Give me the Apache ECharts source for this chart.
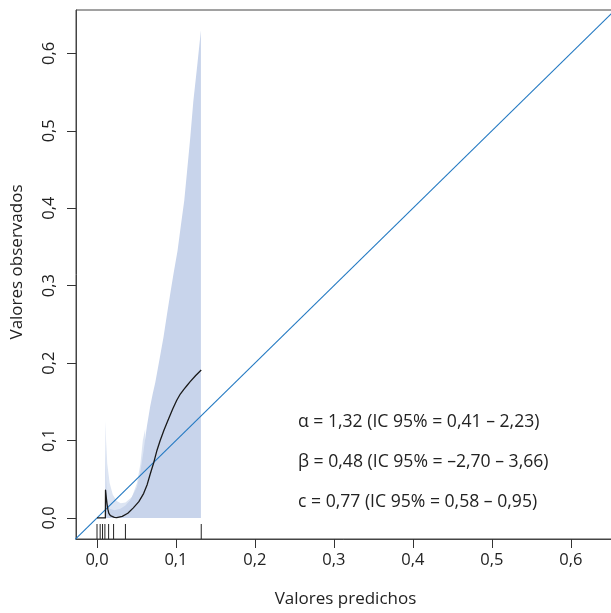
<!DOCTYPE html>
<html>
<head>
<meta charset="utf-8">
<script src="https://cdn.jsdelivr.net/npm/echarts@6/dist/echarts.min.js"></script>
<style>
html,body{margin:0;padding:0;background:#fff;}
#chart{width:611px;height:613px;}
</style>
</head>
<body>
<div id="chart"></div>
<script>
// ---- data ----
const xTickValues = [0, 0.1, 0.2, 0.3, 0.4, 0.5, 0.6];
const xTickLabels = ['0,0', '0,1', '0,2', '0,3', '0,4', '0,5', '0,6'];
const yTickValues = [0, 0.1, 0.2, 0.3, 0.4, 0.5, 0.6];
const yTickLabels = ['0,0', '0,1', '0,2', '0,3', '0,4', '0,5', '0,6'];

// flexible calibration curve
const curveX = [0, 0.0106, 0.0108, 0.0118, 0.0127, 0.0138, 0.015, 0.017, 0.019, 0.022, 0.025, 0.032, 0.039, 0.046, 0.053, 0.059, 0.0635, 0.0675, 0.072, 0.076, 0.080, 0.0850, 0.0907, 0.096, 0.101, 0.1055, 0.110, 0.114, 0.118, 0.125, 0.132];
const curveY = [0, 0, 0.036, 0.026, 0.018, 0.011, 0.006, 0.003, 0.0015, 0.0008, 0.0005, 0.002, 0.006, 0.013, 0.021, 0.0315, 0.043, 0.057, 0.072, 0.0875, 0.100, 0.114, 0.128, 0.141, 0.152, 0.160, 0.166, 0.171, 0.176, 0.184, 0.191];

// confidence band (upper limit, lower limit = 0)
const bandX = [0.0106, 0.0107, 0.0109, 0.0115, 0.013, 0.016, 0.022, 0.0295, 0.036, 0.042, 0.0506, 0.055, 0.059, 0.063, 0.0675, 0.0705, 0.0738, 0.079, 0.0843, 0.0885, 0.0928, 0.097, 0.102, 0.106, 0.1105, 0.114, 0.118, 0.122, 0.127, 0.1316];
const bandUpper = [0, 0.126, 0.09, 0.05, 0.022, 0.012, 0.010, 0.012, 0.016, 0.023, 0.040, 0.060, 0.087, 0.117, 0.145, 0.160, 0.175, 0.204, 0.234, 0.262, 0.290, 0.316, 0.345, 0.376, 0.410, 0.447, 0.490, 0.538, 0.585, 0.630];

// paler outer fringe of the band
const paleX = [0.0106, 0.0107, 0.0115, 0.013, 0.016, 0.020, 0.025, 0.030, 0.036, 0.0443, 0.0506, 0.055, 0.058, 0.061];
const paleUpper = [0, 0.126, 0.10, 0.07, 0.045, 0.03, 0.022, 0.019, 0.02, 0.027, 0.045, 0.07, 0.10, 0.115];

// rug of predicted values
const rugX = [0, 0.004, 0.007, 0.010, 0.0147, 0.021, 0.036, 0.132];

// ideal line y = x
const diagX = [-0.05, 0.7];

const statLines = [
  'α = 1,32 (IC 95% = 0,41 – 2,23)',
  'β = 0,48 (IC 95% = –2,70 – 3,66)',
  'c = 0,77 (IC 95% = 0,58 – 0,95)'
];

const X_MIN = -0.0266, X_MAX = 0.656, Y_MIN = -0.0272, Y_MAX = 0.656;
const FONT = 'Open Sans';

const zip = (a, b) => a.map((v, i) => [v, b[i]]);
const lbl = (vals, labels) => (v) => {
  const i = vals.findIndex(t => Math.abs(t - v) < 1e-9);
  return i >= 0 ? labels[i] : '';
};

const chart = echarts.init(document.getElementById('chart'), null, {renderer: 'canvas'});
chart.setOption({
  animation: false,
  backgroundColor: '#fff',
  grid: {left: 76, top: 10, right: -4, bottom: 74, show: true, borderColor: '#444', borderWidth: 1, outerBoundsMode: 'none', containLabel: false},
  xAxis: {
    type: 'value', min: X_MIN, max: X_MAX,
    name: 'Valores predichos', nameLocation: 'middle', nameGap: 52,
    nameTextStyle: {fontFamily: FONT, fontSize: 17, color: '#222'},
    axisLine: {show: true, onZero: false, lineStyle: {color: '#444', width: 1}},
    axisTick: {show: true, length: 9, customValues: xTickValues, lineStyle: {color: '#333'}},
    axisLabel: {customValues: xTickValues, formatter: lbl(xTickValues, xTickLabels), margin: 13, fontFamily: FONT, fontSize: 16.5, color: '#222'},
    splitLine: {show: false}
  },
  yAxis: {
    type: 'value', min: Y_MIN, max: Y_MAX,
    axisLine: {show: true, onZero: false, lineStyle: {color: '#444', width: 1}},
    axisTick: {show: true, length: 9, customValues: yTickValues, lineStyle: {color: '#333'}},
    axisLabel: {customValues: yTickValues, formatter: lbl(yTickValues, yTickLabels), rotate: 90, margin: 18, fontFamily: FONT, fontSize: 16.5, color: '#222'},
    splitLine: {show: false}
  },
  series: [
    {type: 'line', data: zip(paleX, paleUpper), showSymbol: false, symbol: 'none', lineStyle: {width: 0}, areaStyle: {color: '#dde5f3', opacity: 1}, z: 1},
    {type: 'line', data: zip(bandX, bandUpper), showSymbol: false, symbol: 'none', lineStyle: {width: 0}, areaStyle: {color: '#c8d4eb', opacity: 1}, z: 2},
    {type: 'line', data: zip(diagX, diagX), showSymbol: false, symbol: 'none', clip: true, lineStyle: {color: '#2379c2', width: 1.1}, z: 3},
    {type: 'line', data: zip(curveX, curveY), showSymbol: false, symbol: 'none', lineStyle: {color: '#1a1a1a', width: 1.3, join: 'round'}, z: 4},
    {
      type: 'custom', z: 5, clip: false,
      data: rugX.map(v => [v]),
      renderItem: (params, api) => {
        const p = api.coord([api.value(0), Y_MIN]);
        return {type: 'line', shape: {x1: p[0], y1: p[1], x2: p[0], y2: p[1] - 15}, style: {stroke: '#222', lineWidth: 1}};
      }
    }
  ],
  graphic: [
    {
      type: 'text', x: 17, y: 262, rotation: Math.PI / 2,
      style: {text: 'Valores observados', font: '17px "' + FONT + '"', fill: '#222', textAlign: 'center', textVerticalAlign: 'middle'}
    }
  ].concat(statLines.map((t, i) => ({
    type: 'text', x: 298, y: 421.5 + i * 40,
    style: {text: t, font: '17.6px "' + FONT + '"', fill: '#222', textAlign: 'left', textVerticalAlign: 'middle'}
  })))
});
</script>
</body>
</html>
